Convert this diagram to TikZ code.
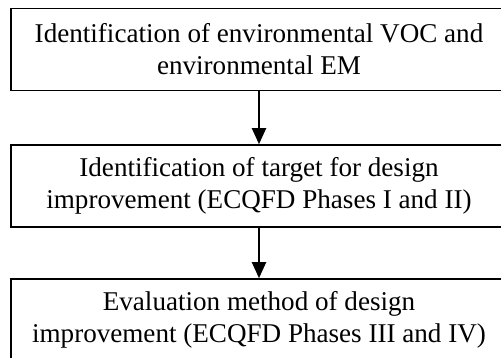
\documentclass[tikz,border=0pt]{standalone}
\usepackage{fontspec}
\setmainfont{Liberation Serif}
\usetikzlibrary{arrows.meta}

\begin{document}
\begin{tikzpicture}
[   x=1pt, y=1pt,
    stage/.style={draw, line width=1.6pt, minimum width=496pt, minimum height=82pt,
        inner sep=0, align=center, font=\fontsize{27.1}{32}\selectfont},
    flow/.style={-{Triangle[width=14pt, length=16pt]}, line width=2pt}
]
    \useasboundingbox (0,0) rectangle (501,-358);
    \clip (0,0) rectangle (501,-358);

    \node[stage] (S1) at (259,-49.5) {Identification of environmental VOC and\\ environmental EM};
    \node[stage] (S2) at (259,-186) {Identification of target for design\\ improvement (ECQFD Phases I and II)};
    \node[stage] (S3) at (259,-320) {Evaluation method of design\\ improvement (ECQFD Phases III and IV)};

    \draw[flow] (S1) -- (S2);
    \draw[flow] (S2) -- (S3);
\end{tikzpicture}
\end{document}
